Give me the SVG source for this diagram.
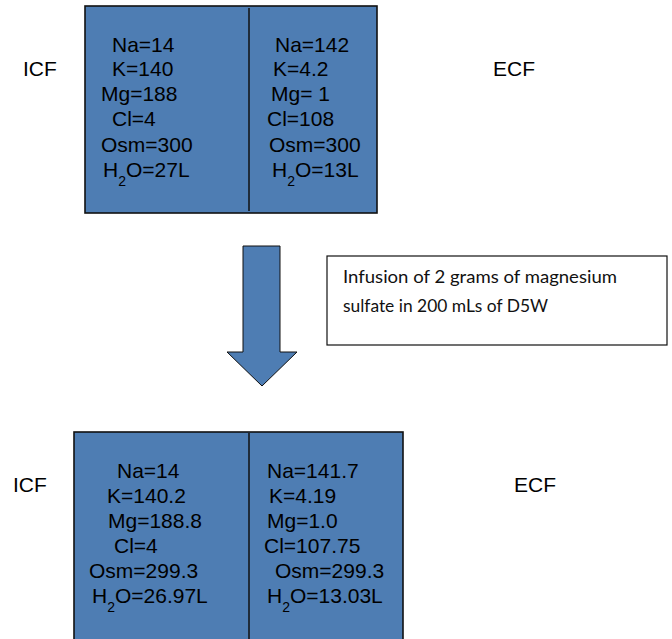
<svg xmlns="http://www.w3.org/2000/svg" width="672" height="639" viewBox="0 0 672 639">
<style>
.box{fill:#4e7db3;stroke:#111;stroke-width:1.6}
.div{stroke:#111;stroke-width:1.5}
.t{font-family:"Liberation Sans",Arial,sans-serif;font-size:21px;fill:#000}
.sub{font-size:14px}
.note{font-family:Lato,"Open Sans",sans-serif;font-size:18px;fill:#111}
</style>
<rect width="672" height="639" fill="#fff"/>
<g id="labels">
<text class="t" x="23" y="76">ICF</text>
<text class="t" x="493" y="76">ECF</text>
<text class="t" x="13" y="492">ICF</text>
<text class="t" x="514" y="492">ECF</text>
</g>
<g id="top-box">
<rect class="box" x="85" y="6" width="292" height="207"/>
<line class="div" x1="249" y1="8" x2="249" y2="211"/>
<text class="t" x="112" y="52">Na=14</text>
<text class="t" x="112" y="76">K=140</text>
<text class="t" x="101" y="101">Mg=188</text>
<text class="t" x="112" y="126">Cl=4</text>
<text class="t" x="101" y="152">Osm=300</text>
<text class="t" x="103" y="177">H<tspan class="sub" dy="9">2</tspan><tspan dy="-9">O=27L</tspan></text>
<text class="t" x="275" y="52">Na=142</text>
<text class="t" x="273" y="76">K=4.2</text>
<text class="t" x="271" y="101">Mg= 1</text>
<text class="t" x="267" y="126">Cl=108</text>
<text class="t" x="269" y="152">Osm=300</text>
<text class="t" x="272" y="177">H<tspan class="sub" dy="9">2</tspan><tspan dy="-9">O=13L</tspan></text>
</g>
<g id="arrow">
<polygon points="243,246 280,246 280,352 297,352 262,386 227,352 243,352" fill="#4e7db3" stroke="#111" stroke-width="1"/>
</g>
<g id="note">
<rect x="327" y="256" width="340" height="89" fill="#fff" stroke="#111" stroke-width="1.2"/>
<text class="note" x="343" y="283" textLength="274" lengthAdjust="spacingAndGlyphs">Infusion of 2 grams of magnesium</text>
<text class="note" x="343" y="312" textLength="205" lengthAdjust="spacingAndGlyphs">sulfate in 200 mLs of D5W</text>
</g>
<g id="bottom-box">
<rect class="box" x="74" y="432" width="329" height="215"/>
<line class="div" x1="249" y1="433" x2="249" y2="639"/>
<text class="t" x="117" y="478">Na=14</text>
<text class="t" x="107" y="503">K=140.2</text>
<text class="t" x="108" y="528">Mg=188.8</text>
<text class="t" x="114" y="553">Cl=4</text>
<text class="t" x="89" y="578">Osm=299.3</text>
<text class="t" x="92" y="603">H<tspan class="sub" dy="9">2</tspan><tspan dy="-9">O=26.97L</tspan></text>
<text class="t" x="267" y="478">Na=141.7</text>
<text class="t" x="269" y="503">K=4.19</text>
<text class="t" x="267" y="528">Mg=1.0</text>
<text class="t" x="264" y="553">Cl=107.75</text>
<text class="t" x="275" y="578">Osm=299.3</text>
<text class="t" x="267" y="603">H<tspan class="sub" dy="9">2</tspan><tspan dy="-9">O=13.03L</tspan></text>
</g>
</svg>
